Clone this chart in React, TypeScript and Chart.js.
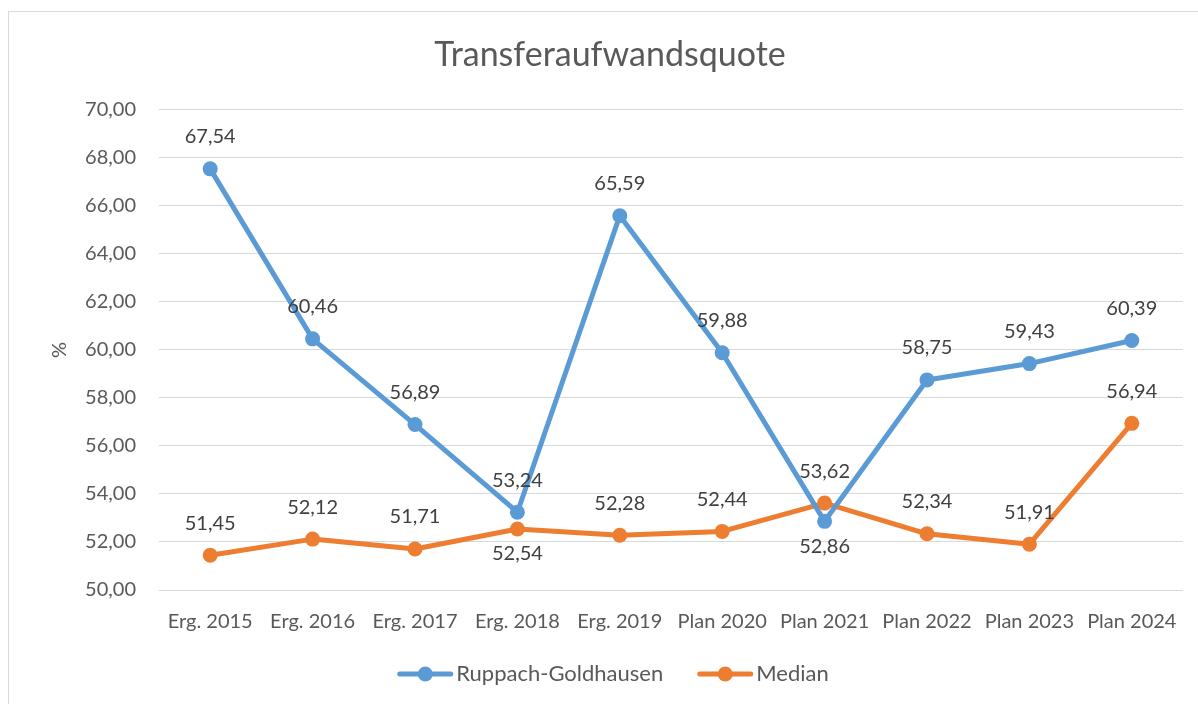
import React, { useEffect, useRef } from "react";
import { Chart, registerables } from "chart.js";

Chart.register(...registerables);

const categories = [
  "Erg. 2015",
  "Erg. 2016",
  "Erg. 2017",
  "Erg. 2018",
  "Erg. 2019",
  "Plan 2020",
  "Plan 2021",
  "Plan 2022",
  "Plan 2023",
  "Plan 2024",
];

const ruppachValues = [67.54, 60.46, 56.89, 53.24, 65.59, 59.88, 52.86, 58.75, 59.43, 60.39];
const medianValues = [51.45, 52.12, 51.71, 52.54, 52.28, 52.44, 53.62, 52.34, 51.91, 56.94];

const ruppachLabelPos = ["above", "above", "above", "above", "above", "above", "below", "above", "above", "above"];
const medianLabelPos = ["above", "above", "above", "below", "above", "above", "above", "above", "above", "above"];

const yMin = 50;
const yMax = 70;
const yStep = 2;

const seriesNames = ["Ruppach-Goldhausen", "Median"];
const seriesColors = ["#5B9BD5", "#ED7D31"];
const labelPositions = [ruppachLabelPos, medianLabelPos];

const FONT = "Lato";

const fmt = (v: number) => v.toFixed(2).replace(".", ",");

const dataLabelPlugin = {
  id: "dataLabels",
  afterDatasetsDraw(chart: any) {
    const ctx = chart.ctx;
    ctx.save();
    ctx.font = `20px ${FONT}`;
    ctx.fillStyle = "#404040";
    ctx.textAlign = "center";
    ctx.textBaseline = "middle";
    chart.data.datasets.forEach((ds: any, di: number) => {
      const meta = chart.getDatasetMeta(di);
      meta.data.forEach((pt: any, i: number) => {
        const pos = labelPositions[di][i];
        const dy = pos === "below" ? 25 : -32;
        ctx.fillText(fmt(ds.data[i]), pt.x, pt.y + dy);
      });
    });
    ctx.restore();
  },
};

const legendPlugin = {
  id: "customLegend",
  afterDraw(chart: any) {
    const ctx = chart.ctx;
    ctx.save();
    ctx.font = `22px ${FONT}`;
    const iconW = 56;
    const gapText = 3;
    const gapItem = 34;
    const items = chart.data.datasets.map((ds: any) => ({
      label: ds.label,
      color: ds.borderColor,
      w: ctx.measureText(ds.label).width,
    }));
    let total = 0;
    items.forEach((it: any, i: number) => {
      total += iconW + gapText + it.w + (i < items.length - 1 ? gapItem : 0);
    });
    const centerX = 604;
    const y = 662;
    let x = centerX - total / 2;
    items.forEach((it: any) => {
      ctx.strokeStyle = it.color;
      ctx.lineWidth = 5;
      ctx.lineCap = "round";
      ctx.beginPath();
      ctx.moveTo(x + 2.5, y);
      ctx.lineTo(x + iconW - 2.5, y);
      ctx.stroke();
      ctx.fillStyle = it.color;
      ctx.beginPath();
      ctx.arc(x + iconW / 2, y, 7.5, 0, Math.PI * 2);
      ctx.fill();
      ctx.fillStyle = "#595959";
      ctx.textAlign = "left";
      ctx.textBaseline = "middle";
      ctx.fillText(it.label, x + iconW + gapText, y);
      x += iconW + gapText + it.w + gapItem;
    });
    ctx.restore();
  },
};

export default function App() {
  const ref = useRef<HTMLCanvasElement | null>(null);

  useEffect(() => {
    if (!ref.current) return;
    const chart = new Chart(ref.current, {
      type: "line",
      data: {
        labels: categories,
        datasets: [ruppachValues, medianValues].map((vals, i) => ({
          label: seriesNames[i],
          data: vals,
          borderColor: seriesColors[i],
          backgroundColor: seriesColors[i],
          borderWidth: 5,
          pointRadius: 7.5,
          pointHoverRadius: 7.5,
          pointBorderWidth: 0,
          pointBackgroundColor: seriesColors[i],
          tension: 0,
          borderCapStyle: "round",
          borderJoinStyle: "round",
        })),
      },
      options: {
        animation: false,
        responsive: false,
        devicePixelRatio: 1,
        layout: { padding: { left: 28, right: 15, top: 0, bottom: 60 } },
        plugins: {
          legend: { display: false },
          tooltip: { enabled: false },
          title: {
            display: true,
            text: "Transferaufwandsquote",
            color: "#595959",
            font: { family: FONT, size: 34, weight: "normal", lineHeight: 1.2 },
            padding: { top: 23, bottom: 34 },
          },
        },
        scales: {
          x: {
            offset: true,
            grid: { display: false, drawTicks: false },
            border: { display: false },
            ticks: {
              color: "#595959",
              font: { family: FONT, size: 20 },
              padding: 20,
              maxRotation: 0,
              autoSkip: false,
            },
            afterFit: (s: any) => {
              s.height = 54;
            },
          },
          y: {
            min: yMin,
            max: yMax,
            grid: { color: "#D9D9D9", lineWidth: 1, drawTicks: false },
            border: { display: false },
            ticks: {
              stepSize: yStep,
              color: "#595959",
              font: { family: FONT, size: 20 },
              padding: 23,
              callback: (v: any) => fmt(Number(v)),
            },
            title: {
              display: true,
              text: "%",
              color: "#595959",
              font: { family: FONT, size: 20, weight: "normal", lineHeight: 1.2 },
              padding: { top: 11, bottom: 0 },
            },
            afterFit: (s: any) => {
              s.width = 122;
            },
          },
        },
      },
      plugins: [dataLabelPlugin, legendPlugin],
    } as any);
    return () => chart.destroy();
  }, []);

  return (
    <div
      style={{
        position: "fixed",
        left: 8,
        top: 11,
        width: 1190,
        height: 693,
        boxSizing: "border-box",
        borderLeft: "1px solid #D9D9D9",
        borderTop: "1px solid #D9D9D9",
        background: "#fff",
      }}
    >
      <canvas ref={ref} width={1189} height={692} style={{ display: "block", width: 1189, height: 692 }} />
    </div>
  );
}
